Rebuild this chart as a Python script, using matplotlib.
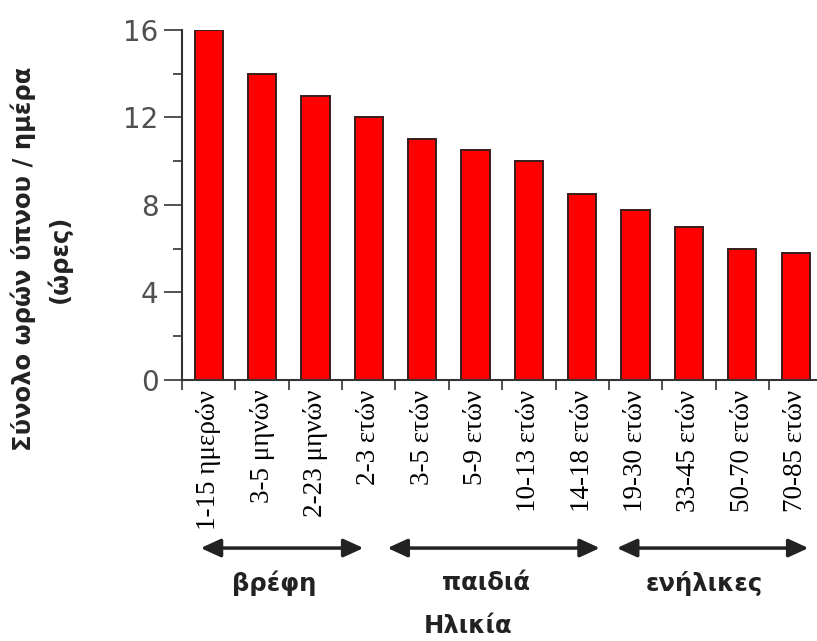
import matplotlib
matplotlib.use('Agg')
import matplotlib.pyplot as plt
from matplotlib.ticker import FixedLocator, NullFormatter

# δεδομένα
age_labels = ['1-15 ημερών', '3-5 μηνών', '2-23 μηνών', '2-3 ετών', '3-5 ετών', '5-9 ετών',
              '10-13 ετών', '14-18 ετών', '19-30 ετών', '33-45 ετών', '50-70 ετών', '70-85 ετών']
sleep_hours = [16, 14, 13, 12, 11, 10.5, 10, 8.5, 7.75, 7, 6, 5.8]
y_ticks = [0, 4, 8, 12, 16]
groups = ['βρέφη', 'παιδιά', 'ενήλικες']
group_first = [0, 4, 8]
group_last = [3, 7, 11]

fig = plt.figure(figsize=(8.17, 6.41), dpi=100)
ax = fig.add_axes([0.2228, 0.4072, 0.7772, 0.546])

x = list(range(len(sleep_hours)))
ax.bar(x, sleep_hours, width=0.53, color='#ff0000', edgecolor='#3a1c1c', linewidth=1.4)

ax.set_xlim(-0.5, 11.4)
ax.set_ylim(0, 16)
for s in ['top', 'right']:
    ax.spines[s].set_visible(False)
for s in ['left', 'bottom']:
    ax.spines[s].set_color('#333333')
    ax.spines[s].set_linewidth(1.5)

# άξονας y
ax.set_yticks(y_ticks)
ax.yaxis.set_minor_locator(FixedLocator([2, 6, 10, 14]))
ax.tick_params(axis='y', which='major', length=13, width=1.2, color='#333333',
               pad=4, labelsize=20, labelcolor='#505050')
ax.tick_params(axis='y', which='minor', length=6.5, width=1.2, color='#333333')

# άξονας x: ετικέτες στο κέντρο, γραμμές ανάμεσα
ax.set_xticks(x)
ax.set_xticklabels(age_labels, rotation=90, fontfamily='Liberation Serif', fontsize=19.5)
ax.xaxis.set_minor_locator(FixedLocator([i - 0.5 for i in range(len(x) + 1)]))
ax.xaxis.set_minor_formatter(NullFormatter())
ax.tick_params(axis='x', which='major', length=0, pad=7)
ax.tick_params(axis='x', which='minor', length=7, width=1.2, color='#333333')

# βέλη ομάδων ηλικίας
pads = [(-0.15, -0.1), (-0.65, 0.33), (-0.35, 0.24)]
for g, a, b, (pa, pb) in zip(groups, group_first, group_last, pads):
    x0, x1 = a + pa, b + pb
    ax.annotate('', xy=(x1, 0.145), xytext=(x0, 0.145),
                xycoords=('data', 'figure fraction'), textcoords=('data', 'figure fraction'),
                arrowprops=dict(arrowstyle='<|-|>,head_length=1.2,head_width=0.55',
                                color='#222222', lw=2.5, shrinkA=0, shrinkB=0),
                annotation_clip=False)
    ax.annotate(g, xy=((x0 + x1) / 2 - 0.15, 0.09), xycoords=('data', 'figure fraction'),
                ha='center', va='center', fontsize=17.5, fontweight='bold', color='#222222',
                annotation_clip=False)

fig.text(0.573, 0.023, 'Ηλικία', ha='center', va='center', fontsize=17.5,
         fontweight='bold', color='#222222')
fig.text(0.05, 0.596, 'Σύνολο ωρών ύπνου / ημέρα\n(ώρες)', rotation=90, ha='center',
         va='center', multialignment='center', fontsize=17.5, fontweight='bold',
         color='#222222', linespacing=1.5)

fig.savefig('out.png', dpi=100)
